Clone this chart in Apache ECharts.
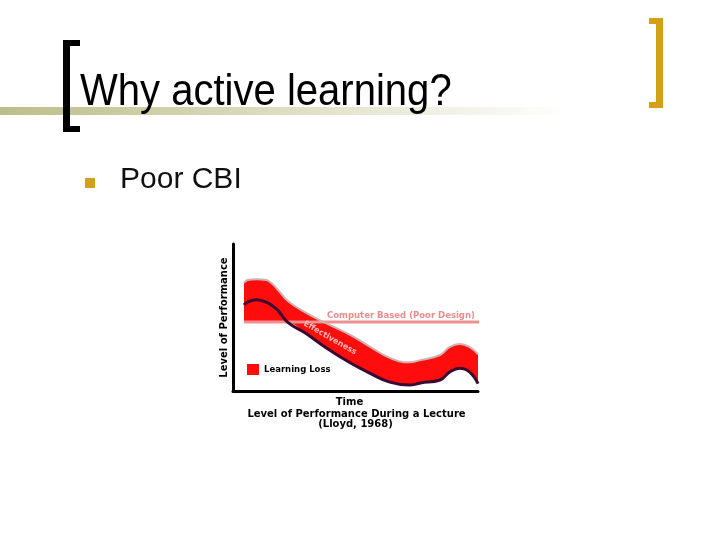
<!DOCTYPE html>
<html>
<head>
<meta charset="utf-8">
<script src="https://cdn.jsdelivr.net/npm/echarts@6/dist/echarts.min.js"></script>
<style>
html,body{margin:0;padding:0;background:#fff;}
#c{width:720px;height:540px;}
</style>
</head>
<body>
<div id="c"></div>
<script>
// ---- data ----
var time  = [4.5, 6, 9.5, 13.5, 16, 18.5, 22.5, 29.5, 37.5, 48, 56, 64, 72, 76.5, 84.5, 88.5, 92.5, 96.5, 100];
var upper = [73.5, 75.5, 76, 75.5, 73, 68.5, 61, 53.5, 46.5, 38, 30, 22.5, 19.5, 21, 24.5, 30, 32, 30, 25];
var lower = [58.5, 60.5, 62, 60.5, 58, 54.5, 46.5, 39.5, 30, 19, 12, 6, 4, 5.5, 7.5, 13, 15.5, 13, 5];
var poorDesign = 47;
var poorDesignSpan = [4.5, 100.5];

// ---- derived series ----
var base = lower.map(function (v) { return Math.min(v, poorDesign); });
function pairs(xs, ys) { return xs.map(function (x, i) { return [x, ys[i]]; }); }

var chart = echarts.init(document.getElementById('c'), null, {renderer: 'canvas'});
var FONT = 'DejaVu Sans';
var SM = 0.45;

chart.setOption({
  animation: false,
  backgroundColor: '#ffffff',
  grid: {left: 233, right: 242, top: 244, bottom: 149, containLabel: false},
  xAxis: {
    type: 'value', min: 0, max: 100, z: 20,
    name: 'Time', nameLocation: 'middle', nameGap: 6,
    nameTextStyle: {fontFamily: FONT, fontWeight: 'bold', fontSize: 10, color: '#000', padding: [0, 12, 0, 0], verticalAlign: 'top'},
    axisLine: {show: true, lineStyle: {color: '#000', width: 3}},
    axisTick: {show: false}, axisLabel: {show: false}, splitLine: {show: false}
  },
  yAxis: {
    type: 'value', min: 0, max: 100, z: 20,
    name: 'Level of Performance', nameLocation: 'middle', nameGap: 4, nameRotate: 90,
    nameTextStyle: {fontFamily: FONT, fontWeight: 'bold', fontSize: 10, color: '#000'},
    axisLine: {show: true, lineStyle: {color: '#000', width: 3}},
    axisTick: {show: false}, axisLabel: {show: false}, splitLine: {show: false}
  },
  legend: {
    data: [{name: 'Learning Loss', icon: 'rect'}],
    left: 247, top: 364, padding: 0, itemWidth: 12, itemHeight: 11, z: 20,
    textStyle: {fontFamily: FONT, fontWeight: 'bold', fontSize: 8.5, color: '#000'},
    selectedMode: false
  },
  series: [
    {
      name: 'Learning Loss', type: 'line', smooth: SM, symbol: 'none',
      data: pairs(time, upper), lineStyle: {opacity: 0},
      itemStyle: {color: '#ff0d0d'},
      areaStyle: {color: '#ff0d0d', opacity: 1, origin: 'start'}, z: 2
    },
    {
      name: 'below', type: 'line', smooth: SM, symbol: 'none', silent: true,
      data: pairs(time, base), lineStyle: {color: '#ffffff', width: 0.5},
      areaStyle: {color: '#ffffff', opacity: 1, origin: 'start'}, z: 3
    },
    {
      name: 'poor', type: 'line', symbol: 'none',
      data: [[poorDesignSpan[0], poorDesign], [poorDesignSpan[1], poorDesign]],
      lineStyle: {color: '#ee9090', width: 3}, z: 4
    },
    {
      name: 'upperEdge', type: 'line', smooth: SM, symbol: 'none',
      data: pairs(time, upper), lineStyle: {color: '#cdb2b2', width: 2}, z: 5
    },
    {
      name: 'lowerEdge', type: 'line', smooth: SM, symbol: 'none',
      data: pairs(time, lower), lineStyle: {color: '#3a0830', width: 3}, z: 6
    }
  ],
  graphic: [
    // header band
    {type: 'rect', shape: {x: 0, y: 107, width: 600, height: 8}, z: 1,
     style: {fill: new echarts.graphic.LinearGradient(0, 0, 1, 0, [
       {offset: 0, color: '#bdbd8c'}, {offset: 0.45, color: '#dcdcc0'}, {offset: 0.95, color: '#ffffff'}])}},
    // left bracket
    {type: 'rect', shape: {x: 63, y: 40, width: 7, height: 92}, style: {fill: '#000'}, z: 2},
    {type: 'rect', shape: {x: 63, y: 40, width: 17, height: 6}, style: {fill: '#000'}, z: 2},
    {type: 'rect', shape: {x: 63, y: 126, width: 17, height: 6}, style: {fill: '#000'}, z: 2},
    // right bracket
    {type: 'rect', shape: {x: 656, y: 18, width: 7, height: 90}, style: {fill: '#d4a017'}, z: 2},
    {type: 'rect', shape: {x: 649, y: 18, width: 14, height: 6}, style: {fill: '#d4a017'}, z: 2},
    {type: 'rect', shape: {x: 649, y: 102, width: 14, height: 6}, style: {fill: '#d4a017'}, z: 2},
    // title
    {type: 'text', x: 80, y: 93, scaleX: 0.91, z: 3,
     style: {text: 'Why active learning?', font: '44px "Liberation Sans", Arial, sans-serif', fill: '#000', verticalAlign: 'middle'}},
    // bullet
    {type: 'rect', shape: {x: 85, y: 178, width: 10, height: 10}, style: {fill: '#d2a214'}},
    {type: 'text', x: 120, y: 180, z: 3,
     style: {text: 'Poor CBI', font: '30px "Liberation Sans", Arial, sans-serif', fill: '#111', verticalAlign: 'middle'}},
    // chart annotations
    {type: 'text', x: 327, y: 316, z: 10,
     style: {text: 'Computer Based (Poor Design)', font: 'bold 8.5px "DejaVu Sans"', fill: '#e88c8c', verticalAlign: 'middle'}},
    {type: 'text', x: 330, y: 338, rotation: -0.52, z: 10,
     style: {text: 'Effectiveness', font: 'bold 8px "DejaVu Sans"', fill: '#f6b8b8', align: 'center', verticalAlign: 'middle'}},
    {type: 'text', x: 356.5, y: 414, z: 10,
     style: {text: 'Level of Performance During a Lecture', font: 'bold 10px "DejaVu Sans"', fill: '#000', align: 'center', verticalAlign: 'middle'}},
    {type: 'text', x: 355.5, y: 424.5, z: 10,
     style: {text: '(Lloyd, 1968)', font: 'bold 10px "DejaVu Sans"', fill: '#000', align: 'center', verticalAlign: 'middle'}}
  ]
});
</script>
</body>
</html>
